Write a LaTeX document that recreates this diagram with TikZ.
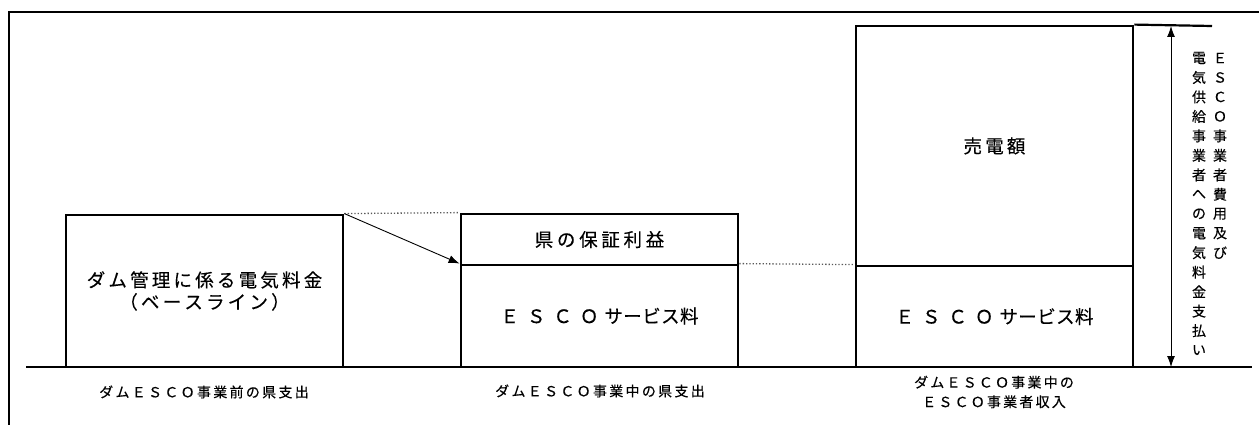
\documentclass[tikz,border=0pt]{standalone}
\usepackage{fontspec}
\newfontfamily\jp[FakeBold=0.3]{Noto Sans CJK JP}
\usetikzlibrary{arrows.meta}
\newdimen\lspc
\def\spr#1#2{\lspc=#1\relax\sprA#2\relax}
\def\sprA#1{\ifx\relax#1\unskip\else#1\hskip\lspc\relax\expandafter\sprA\fi}
\tikzset{
  box/.style={draw, line width=2.8pt, inner sep=0pt, minimum width=277pt, font=\jp\fontsize{18.5}{22}\selectfont},
  lbl/.style={inner sep=0pt, font=\jp\fontsize{14}{19.5}\selectfont, align=center},
  vch/.style={inner sep=0pt, font=\jp\fontsize{14}{14}\selectfont},
  dotl/.style={dotted, line width=1.3pt, gray!70!black},
  thin/.style={line width=0.9pt},
  mytip/.tip={Latex[length=11pt,width=8pt]}
}
\newcommand{\escoline}{\spr{8pt}{ＥＳＣＯ}\hskip6pt\spr{0.4pt}{サービス料}}
\begin{document}
\begin{tikzpicture}[x=1pt,y=-1pt]
\useasboundingbox (0,0) rectangle (1259,425);
% frame
\coordinate (fb) at (9,425);
\coordinate (ftl) at (9,12);
\coordinate (ftr) at (1259,12);
\draw[line width=2.2pt] (fb) -- (ftl) -- (ftr);
% boxes
\node[box, minimum height=152pt, align=center] (b1) at (204.5,291) {\spr{3.2pt}{ダム管理に係る電気料金}\\[0pt]\spr{3.2pt}{（ベースライン）}};
\node[box, minimum height=51pt] (b2t) at (599.5,239.5) {\spr{3.7pt}{県の保証利益}};
\node[box, minimum height=102pt] (b2b) at (599.5,316) {\escoline};
\node[box, minimum height=240pt] (b3t) at (994.5,146) {\spr{3.2pt}{売電額}};
\node[box, minimum height=101pt] (b3b) at (994.5,316.5) {\escoline};
% baseline
\coordinate (bl) at (26,367);
\coordinate (br) at (1252,367);
\draw[line width=2.8pt] (bl) -- (br);
% connectors
\draw[dotl] (b1.north east) -- (b2t.north west);
\draw[thin, -mytip] (b1.north east) -- (b2b.north west);
\draw[dotl] (b2b.north east) -- (b3b.north west);
% extension of top
\coordinate (ext) at (1212,26);
\draw[line width=2.2pt] (b3t.north east) -- (ext);
% double arrow
\coordinate (at) at (1171,26);
\coordinate (ab) at (1171,367);
\draw[thin, mytip-mytip] (at) -- (ab);
% vertical text
\foreach \c [count=\i] in {Ｅ,Ｓ,Ｃ,Ｏ,事,業,者,費,用,及,び}
  \node[vch] (vr\i) at (1220,{58+19.47*(\i-1)}) {\c};
\foreach \c [count=\i] in {電,気,供,給,事,業,者,へ,の,電,気,料,金,支,払,い}
  \node[vch] (vl\i) at (1199,{58+19.47*(\i-1)}) {\c};
% labels
\node[lbl] (l1) at (204,392) {\spr{2.3pt}{ダムＥＳＣＯ事業前の県支出}};
\node[lbl] (l2) at (600,391) {\spr{2.3pt}{ダムＥＳＣＯ事業中の県支出}};
\node[lbl] (l3) at (994,392) {\spr{2.2pt}{ダムＥＳＣＯ事業中の}\\\spr{2.2pt}{ＥＳＣＯ事業者収入}};
\end{tikzpicture}
\end{document}
